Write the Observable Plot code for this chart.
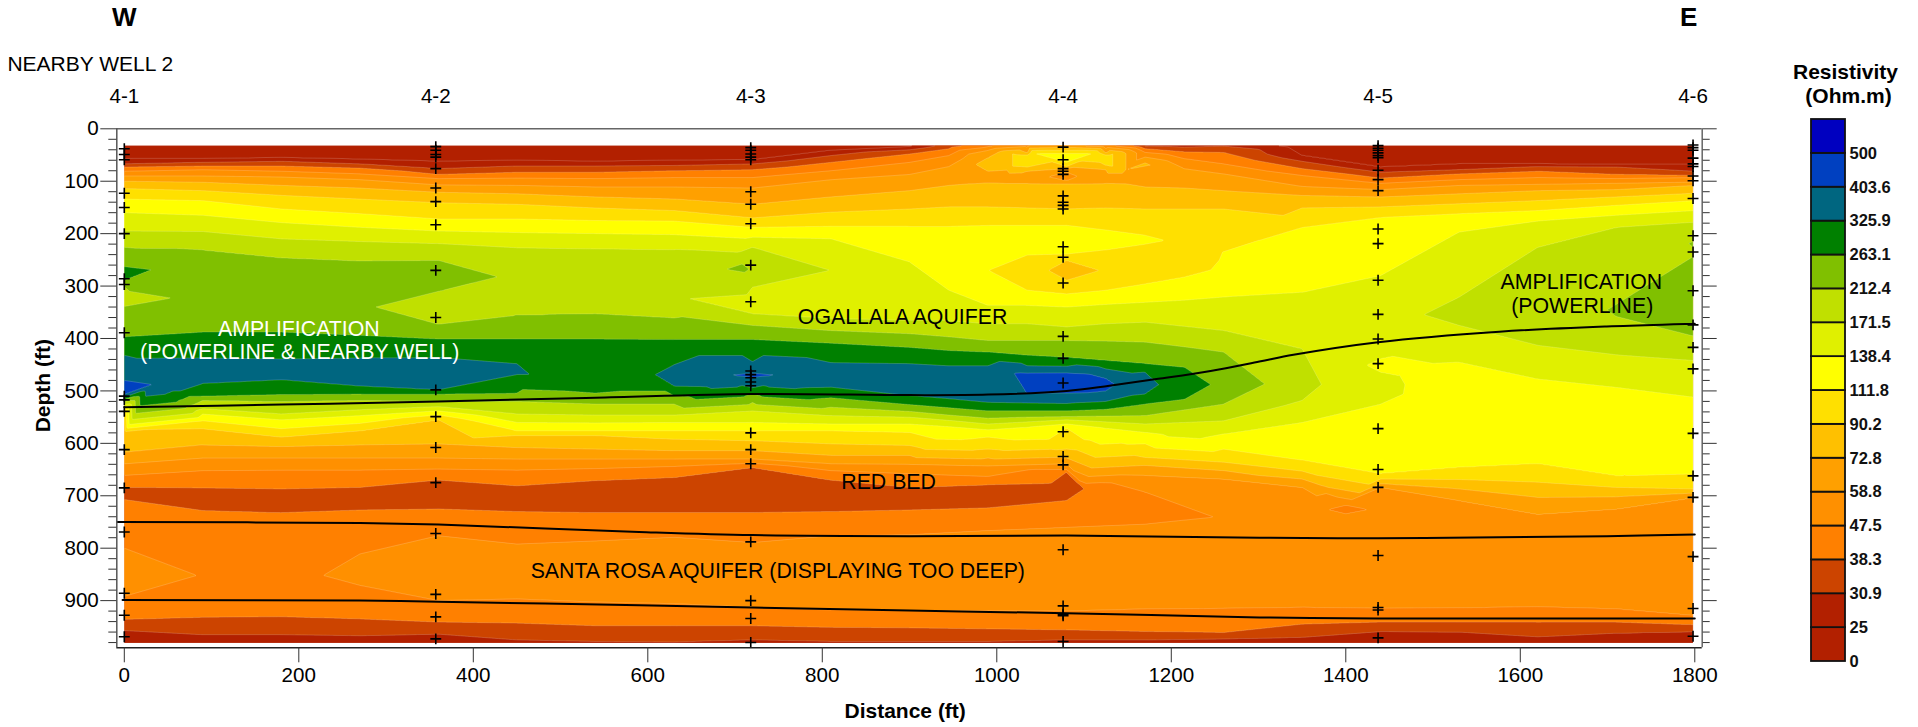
<!DOCTYPE html>
<html><head><meta charset="utf-8">
<script src="https://cdn.jsdelivr.net/npm/d3@7"></script>
<script src="https://cdn.jsdelivr.net/npm/@observablehq/plot@0.6"></script>
<style>html,body{margin:0;padding:0;background:#fff;overflow:hidden}#chart{position:relative;width:1918px;height:727px}#chart svg{display:block;max-width:none;background:transparent}#legend{position:absolute;left:1718px;top:0}</style>
</head><body><div id="chart"><div id="main"></div><div id="legend"></div></div>
<script>
// Resistivity class limits and colours (lowest class first)
const levels = [0,25,30.9,38.3,47.5,58.8,72.8,90.2,111.8,138.4,171.5,212.4,263.1,325.9,403.6,500];
const levelLabels = ["0","25","30.9","38.3","47.5","58.8","72.8","90.2","111.8","138.4","171.5","212.4","263.1","325.9","403.6","500"];
const levelColors = ["#b22000","#b22000","#cc4400","#ff8000","#ff9000","#ffa000","#ffc000","#ffe000","#ffff00","#e0f000","#c0e000","#80c000","#008000","#006680","#0040c0","#0000c0"];

// Resistivity read from the section: [depth ft, ohm.m] down each distance column
const c0=[[32,20],[57,25],[67,30.9],[73,38.3],[81,47.5],[90,58.8],[100,72.8],[114,90.2],[134,111.8],[160,138.4],[195,171.5],[226,212.4],[263,263.1],[275,280],[289,263.1],[301,212.4],[320,200],[339,212.4],[397,263.1],[432,325.9],[480,403.6],[495,430],[507,403.6],[512,325.9],[516,263.1],[520,212.4],[525,171.5],[530,138.4],[534,111.8],[538,90.2],[580,82],[617,72.8],[639,58.8],[661,47.5],[684,38.3],[695,35],[707,38.3],[750,43],[800,47.5],[846,52],[892,47.5],[936,38.3],[957,30.9],[981,27]];
const c90=[[32,20],[57,25],[64,30.9],[71,38.3],[78,47.5],[90,58.8],[102,72.8],[118,90.2],[137,111.8],[165,138.4],[196,171.5],[231,212.4],[388,263.1],[437,325.9],[462,350],[486,325.9],[510,263.1],[518,212.4],[534,171.5],[544,138.4],[557,111.8],[572,90.2],[603,72.8],[628,58.8],[652,47.5],[685,38.3],[706,34],[728,38.3],[790,43],[850,47],[890,43],[932,38.3],[965,30.9],[981,27]];
const c180=[[32,20],[55,25],[62,30.9],[71,38.3],[81,47.5],[92,58.8],[108,72.8],[127,90.2],[153,111.8],[179,138.4],[210,171.5],[246,212.4],[388,263.1],[439,325.9],[460,345],[479,325.9],[507,263.1],[520,212.4],[544,171.5],[555,138.4],[572,111.8],[588,90.2],[606,72.8],[628,58.8],[651,47.5],[687,38.3],[710,34],[732,38.3],[850,45],[931,38.3],[965,30.9],[981,27]];
const c270=[[32,20],[58,25],[67,30.9],[75,38.3],[86,47.5],[97,58.8],[113,72.8],[134,90.2],[162,111.8],[188,138.4],[215,171.5],[252,212.4],[300,235],[340,218],[394,263.1],[437,325.9],[465,345],[491,325.9],[506,263.1],[518,212.4],[536,171.5],[547,138.4],[562,111.8],[576,90.2],[603,72.8],[628,58.8],[651,47.5],[684,38.3],[705,34],[727,38.3],[770,44],[811,47.5],[845,50],[871,47.5],[935,38.3],[967,30.9],[981,27]];
const c360=[[32,20],[62,25],[76,30.9],[87,38.3],[95,47.5],[107,58.8],[121,72.8],[141,90.2],[172,111.8],[195,138.4],[219,171.5],[251,212.4],[280,235],[310,212.4],[340,190],[373,212.4],[401,263.1],[436,325.9],[470,360],[498,325.9],[506,263.1],[520,212.4],[530,171.5],[538,138.4],[546,111.8],[555,90.2],[601,72.8],[628,58.8],[649,47.5],[670,38.3],[697,33],[725,38.3],[776,47.5],[840,53],[900,47.5],[941,38.3],[964,30.9],[981,27]];
const c450=[[32,20],[60,25],[71,30.9],[83,38.3],[94,47.5],[108,58.8],[124,72.8],[144,90.2],[172,111.8],[198,138.4],[227,171.5],[283,205],[356,212.4],[401,263.1],[448,325.9],[458,335],[469,325.9],[504,263.1],[520,212.4],[544,171.5],[560,138.4],[576,111.8],[585,90.2],[608,72.8],[630,58.8],[651,47.5],[681,38.3],[705,33],[730,38.3],[792,47.5],[845,53],[897,47.5],[943,38.3],[975,30.9],[981,29]];
const c540=[[32,20],[62,25],[71,30.9],[83,38.3],[95,47.5],[111,58.8],[130,72.8],[151,90.2],[175,111.8],[200,138.4],[229,171.5],[353,212.4],[401,263.1],[460,305],[504,263.1],[525,212.4],[546,171.5],[561,138.4],[576,111.8],[585,90.2],[611,72.8],[630,58.8],[648,47.5],[671,38.3],[700,33],[732,38.3],[786,47.5],[845,53],[903,47.5],[948,38.3],[978,30.9],[981,30]];
const c630=[[32,20],[60,25],[70,30.9],[80,38.3],[93,47.5],[111,58.8],[134,72.8],[156,90.2],[176,111.8],[202,138.4],[230,171.5],[324,195],[361,212.4],[402,263.1],[450,325.9],[470,335],[491,325.9],[509,263.1],[525,212.4],[546,171.5],[560,138.4],[576,111.8],[592,90.2],[614,72.8],[630,58.8],[644,47.5],[665,38.3],[700,33],[732,38.3],[779,47.5],[845,53],[906,47.5],[948,38.3],[979,30.9],[981,30.5]];
const c720=[[32,20],[59,25],[67,30.9],[78,38.3],[93,47.5],[113,58.8],[144,72.8],[170,90.2],[188,111.8],[207,138.4],[226,171.5],[264,205],[302,171.5],[330,160],[353,171.5],[375,212.4],[402,263.1],[444,325.9],[466,403.6],[470,412],[474,403.6],[494,325.9],[506,263.1],[522,212.4],[538,171.5],[560,138.4],[576,111.8],[595,90.2],[614,72.8],[630,58.8],[638,47.5],[646,38.3],[690,33],[732,38.3],[789,47.5],[850,53],[913,47.5],[948,38.3],[975,30.9],[981,28]];
const c810=[[32,20],[41,25],[51,30.9],[64,38.3],[80,47.5],[97,58.8],[130,72.8],[159,90.2],[186,111.8],[210,138.4],[270,171],[330,150],[362,171.5],[385,212.4],[409,263.1],[446,325.9],[470,375],[493,325.9],[513,263.1],[531,212.4],[547,171.5],[563,138.4],[576,111.8],[601,90.2],[623,72.8],[639,58.8],[652,47.5],[670,38.3],[700,33],[730,38.3],[776,47.5],[850,53],[918,47.5],[951,38.3],[978,30.9],[981,30]];
const c900=[[32,24],[34,25],[40,30.9],[48,38.3],[64,47.5],[87,58.8],[118,72.8],[153,90.2],[186,111.8],[254,138.4],[310,150],[366,171.5],[391,212.4],[417,263.1],[448,325.9],[485,390],[509,325.9],[526,263.1],[539,212.4],[550,171.5],[563,138.4],[579,111.8],[604,90.2],[623,72.8],[640,58.8],[658,47.5],[684,38.3],[705,33],[727,38.3],[774,47.5],[850,53],[919,47.5],[952,38.3],[978,30.9],[981,30]];
const c945=[[32,34],[38,38.3],[51,47.5],[72,58.8],[90,66],[108,72.8],[149,90.2],[186,111.8],[245,125],[308,138.4],[366,171.5],[397,212.4],[423,263.1],[452,325.9],[485,380],[515,325.9],[532,263.1],[546,212.4],[556,171.5],[568,138.4]];
const c968=[[48,58.8],[60,64],[85,67],[105,72.8]];
const c990=[[32,44],[34,47.5],[41,58.8],[55,72.8],[68,80],[81,72.8],[92,65],[103,72.8],[149,90.2],[184,111.8],[225,125],[270,112],[310,125],[337,138.4],[372,171.5],[404,212.4],[426,263.1],[452,325.9],[488,395],[522,325.9],[538,263.1],[552,212.4],[563,171.5],[574,138.4],[588,111.8],[611,90.2],[628,72.8],[643,58.8],[663,47.5],[679,38.3],[700,34],[723,38.3],[766,47.5],[850,53],[919,47.5],[954,38.3],[978,30.9],[981,30]];
const c1012=[[79,72.8],[92,63],[104,72.8]];
const c1035=[[32,55],[36,58.8],[46,72.8],[50,90.2],[60,98],[73,90.2],[81,72.8],[92,62],[104,72.8],[151,90.2],[184,111.8],[212,125],[241,111.8],[270,100],[308,111.8],[337,138.4],[372,171.5],[404,212.4],[432,263.1],[452,325.9],[466,405],[488,430],[505,403.6],[523,325.9],[538,263.1],[550,212.4],[559,171.5],[569,138.4]];
const c1080=[[32,60],[36,72.8],[41,90.2],[47,111.8],[53,125],[64,111.8],[72,90.2],[76,72.8],[83,58.8],[91,56],[99,58.8],[105,72.8],[153,90.2],[184,111.8],[212,125],[239,111.8],[251,90.2],[270,82],[289,90.2],[315,111.8],[340,138.4],[378,171.5],[404,212.4],[436,263.1],[453,325.9],[466,406],[488,450],[504,404.5],[524,325.9],[538,263.1],[549,212.4],[555,171.5],[563,138.4],[571,111.8],[611,90.2],[628,72.8],[639,58.8],[650,47.5],[655,38.3],[680,36],[709,38.3],[760,47.5],[850,53],[920,47.5],[956,38.3],[975,30.9],[981,28]];
const c1106=[[468,404.5],[488,425],[503,405]];
const c1125=[[32,50],[38,58.8],[46,72.8],[50,90.2],[60,95],[70,90.2],[78,72.8],[90,66],[104,72.8],[151,90.2],[193,111.8],[212,122],[231,111.8],[270,92],[308,111.8],[335,138.4],[372,171.5],[405,212.4],[442,263.1],[458,325.9],[476,403.6],[488,412],[500,404.2],[520,325.9],[535,263.1],[548,212.4],[559,171.5],[571,138.4]];
const c1148=[[78,72.8],[90,66],[105,72.8]];
const c1170=[[32,30],[33,30.9],[38,38.3],[45,47.5],[54,58.8],[65,72.8],[68,75],[71,72.8],[85,65],[111,72.8],[153,90.2],[203,111.8],[212,115],[220,111.8],[255,100],[296,111.8],[331,138.4],[369,171.5],[407,212.4],[448,263.1],[464,325.9],[488,340],[506,325.9],[525,263.1],[547,212.4],[563,171.5],[579,138.4],[601,111.8],[627,90.2],[642,72.8],[661,58.8],[693,47.5],[725,44],[754,47.5],[835,53],[916,47.5],[959,38.3],[975,30.9],[981,28]];
const c1215=[[32,29],[35,30.9],[44,38.3],[57,47.5],[76,58.8],[95,66],[113,72.8],[153,90.2],[200,100],[250,105],[283,111.8],[327,138.4],[377,171.5],[416,212.4],[455,263.1],[488,300],[516,263.1],[536,212.4],[560,171.5]];
const c1260=[[32,30],[33,30.9],[45,38.3],[67,47.5],[86,58.8],[118,72.8],[153,90.2],[235,112],[321,138.4],[385,171.5],[426,212.4],[488,255],[525,212.4],[557,171.5],[582,138.4],[611,111.8],[636,90.2],[652,72.8],[668,58.8],[743,48],[830,53],[915,47.5],[961,38.3],[973,30.9],[981,28]];
const c1350=[[32,22],[51,25],[62,30.9],[76,38.3],[89,47.5],[110,58.8],[127,72.8],[151,90.2],[188,111.8],[312,138.4],[420,171.5],[487,195],[518,171.5],[560,138.4],[632,111.8],[653,90.2],[668,72.8],[684,58.8],[726,49],[830,53],[913,47.5],[945,38.3],[970,30.9],[981,28]];
const c1440=[[32,22],[73,25],[83,30.9],[94,38.3],[104,47.5],[116,58.8],[130,72.8],[149,90.2],[169,111.8],[280,138.4],[360,155],[439,138.4],[451,132],[464,138.4],[495,145],[525,138.4],[658,111.8],[668,90.2],[677,72.8],[684,58.8],[726,49],[830,53],[915,47.5],[941,38.3],[959,30.9],[981,27]];
const c1530=[[32,22],[67,25],[78,30.9],[86,38.3],[97,47.5],[108,58.8],[124,72.8],[143,90.2],[162,111.8],[197,138.4],[321,171.5],[350,185],[375,171.5],[445,138.4],[560,120],[646,111.8],[669,90.2],[687,72.8],[709,58.8],[820,53],[914,47.5],[941,38.3],[960,30.9],[981,27]];
const c1620=[[32,22],[67,25],[72,30.9],[81,38.3],[93,47.5],[106,58.8],[118,72.8],[137,90.2],[156,111.8],[176,138.4],[226,171.5],[340,200],[413,171.5],[477,138.4],[560,120],[639,111.8],[674,90.2],[703,72.8],[735,58.8],[825,53],[912,47.5],[941,38.3],[969,30.9],[981,28]];
const c1710=[[32,22],[68,25],[73,30.9],[87,38.3],[95,47.5],[104,58.8],[116,72.8],[130,90.2],[146,111.8],[165,138.4],[188,171.5],[335,212.4],[346,214],[358,212.4],[431,171.5],[493,138.4],[580,120],[662,111.8],[684,90.2],[702,72.8],[725,58.8],[820,53],[916,47.5],[941,38.3],[962,30.9],[981,28]];
const c1800=[[32,22],[68,25],[81,30.9],[89,38.3],[93,47.5],[102,58.8],[108,72.8],[123,90.2],[137,111.8],[156,138.4],[178,171.5],[214,212.4],[221,216],[229,212.4],[235,210],[242,212.4],[320,245],[396,212.4],[442,171.5],[512,138.4],[600,120],[642,111.8],[650,113],[658,111.8],[667,111],[676,111.8],[687,90.2],[695,72.8],[703,58.8],[820,53],[929,47.5],[946,38.3],[959,30.9],[981,28]];
const columnX=[0,90,180,270,360,450,540,630,720,810,900,945,968,990,1012,1035,1080,1106,1125,1148,1170,1215,1260,1350,1440,1530,1620,1710,1800];
const columns=[c0,c90,c180,c270,c360,c450,c540,c630,c720,c810,c900,c945,c968,c990,c1012,c1035,c1080,c1106,c1125,c1148,c1170,c1215,c1260,c1350,c1440,c1530,c1620,c1710,c1800];
// Tips of closed contours between the columns: [distance, depth, ohm.m]
const contourTips=[[31,269,263.1],[54,323,212.4],[32,488,403.6],[83,852,47.5],[228,852,47.5],[465,469,325.9],[608,469,325.9],[694,470,403.6],[748,470,403.6],[708,265,225],[690,268,212.4],[716,268,212.4],[708,258,212.4],[647,324,171.5],[998,488,403.6],[1019,465,402],[1136,488,403.6],[1186,488,325.9],[1245,488,263.1],[1307,487,212.4],[1372,488,171.5],[1468,488,138.4],[1462,471,138.4],[1466,506,138.4],[1490,470,128],[1454,434,138.4],[1424,451,138.4],[976,68,72.8],[1018,48,90.2],[1018,72,90.2],[1133,48,90.2],[1133,72,90.2],[1043,47,111.8],[1110,47,111.8],[1059,270,90.2],[1118,270,90.2],[1193,213,111.8],[1246,270,112],[1256,251,112],[1301,213,112],[1100,687,38.3],[1380,726,47.5],[1400,718,47.5],[1400,726,46],[1400,734,47.5],[1425,726,47.5]];

// Measurement points (+) at each station
const stationNames=["4-1","4-2","4-3","4-4","4-5","4-6"];
const stationX=[0,357,718,1076,1437,1798];
const p1=[38,49,59,123,150,200,286,297,389,510,517,539,612,685,769,886,928,969];
const p2=[34,41,49,54,76,113,139,183,270,360,498,549,608,675,772,888,931,973];
const p3=[36,41,48,54,59,120,144,181,260,330,462,469,475,483,490,580,612,639,788,900,934,980];
const p4=[35,59,76,81,87,128,140,146,153,225,245,294,396,438,485,578,625,641,803,910,926,929,978];
const p5=[32,37,41,46,51,55,79,97,118,191,219,289,354,401,448,572,650,684,814,913,918,971];
const p6=[31,36,41,56,67,72,90,99,133,204,235,309,374,417,458,581,662,703,816,915,968];
const stationDepths=[p1,p2,p3,p4,p5,p6];

// Interpreted formation boundaries: [distance, depth]
const boundaryA=[[0,531],[180,526],[360,520],[540,513],[720,506],[900,508],[990,507],[1080,500],[1129,490],[1185,477],[1245,462],[1301,444],[1340,431],[1437,407],[1576,387],[1699,377],[1800,372]];
const boundaryB=[[-8,750],[270,752],[360,755],[590,769],[720,775],[900,777],[1080,776],[1301,780],[1437,781],[1576,779],[1699,777],[1800,774]];
const boundaryC=[[-2,899],[270,900],[360,902],[590,909],[720,913],[900,919],[1080,924],[1301,932],[1437,934],[1800,934]];

// Annotations: [distance, depth, text, colour]
const notes=[[200,382,"AMPLIFICATION","#fff"],[201,427,"(POWERLINE & NEARBY WELL)","#fff"],[892,359,"OGALLALA AQUIFER","#000"],[876,674,"RED BED","#000"],[749,843,"SANTA ROSA AQUIFER (DISPLAYING TOO DEEP)","#000"],[1670,292,"AMPLIFICATION","#000"],[1671,338,"(POWERLINE)","#000"]];
const xTicks=[0,200,400,600,800,1000,1200,1400,1600,1800];
const yTicks=[0,100,200,300,400,500,600,700,800,900];
const yMinor=d3.range(20,1000,20).filter(d=>d%100!==0);

const samples=[];
columns.forEach((col,i)=>col.forEach(([d,v])=>samples.push({x:columnX[i],y:d,v})));
contourTips.forEach(([x,y,v])=>samples.push({x,y,v}));
const plusses=stationDepths.flatMap((ds,i)=>ds.map(d=>({x:stationX[i],y:d})));
const colorScale={type:"threshold",domain:levels.slice(1),range:levelColors};
const F="Liberation Sans";

const boundaryMark=b=>Plot.line(b,{x:d=>d[0],y:d=>d[1],stroke:"#000",strokeWidth:2,curve:"catmull-rom"});
const main=Plot.plot({
  width:1918,height:727,marginLeft:116.3,marginRight:216.3,marginTop:128.3,marginBottom:79.7,
  style:{fontFamily:F,background:"transparent"},
  x:{domain:[-8.6,1808.5]},y:{domain:[0,990],reverse:true},color:colorScale,
  marks:[
    Plot.contour(samples,{x:"x",y:"y",value:"v",fill:"value",stroke:"#fff",strokeOpacity:.3,strokeWidth:.6,
      interpolate:"barycentric",thresholds:levels,x1:0,x2:1798,y1:32,y2:981,pixelSize:1,blur:0}),
    boundaryMark(boundaryA),boundaryMark(boundaryB),boundaryMark(boundaryC),
    Plot.dot(plusses,{x:"x",y:"y",symbol:"plus",r:3.6,stroke:"#000",strokeWidth:1.6}),
    Plot.text(notes,{x:d=>d[0],y:d=>d[1],text:d=>d[2],fill:d=>d[3],fontSize:21.3}),
    Plot.ruleY([0],{stroke:"#666",strokeWidth:1.5}),
    Plot.ruleY([990],{stroke:"#222",strokeWidth:1.5}),
    Plot.ruleX([-8.6],{stroke:"#555",strokeWidth:1.5}),
    Plot.ruleX([1808.5],{stroke:"#666",strokeWidth:1.5}),
    Plot.axisX(xTicks,{tickSize:15,tickPadding:5,fontSize:20.6,label:null,stroke:"#333",tickFormat:d=>String(d)}),
    Plot.axisY(yTicks,{anchor:"left",tickSize:16,tickPadding:2,fontSize:20.6,label:null,stroke:"#333"}),
    Plot.axisY(yMinor,{anchor:"left",tickSize:8,text:null,label:null,stroke:"#333"}),
    Plot.axisY(yTicks,{anchor:"right",tickSize:14,text:null,label:null,stroke:"#333"}),
    Plot.axisY(yMinor,{anchor:"right",tickSize:7,text:null,label:null,stroke:"#333"}),
    Plot.text(stationNames,{x:(d,i)=>stationX[i],fontSize:20.6,text:d=>d,y:()=>-62}),
    Plot.text(["W"],{x:[0],y:[-212],fontSize:26,fontWeight:"bold"}),
    Plot.text(["E"],{x:[1800],dx:-6,y:[-212],fontSize:26,fontWeight:"bold"}),
    Plot.text(["NEARBY WELL 2"],{x:[-134],y:[-123],textAnchor:"start",fontSize:21}),
    Plot.text(["Distance (ft)"],{x:[895],y:[1112],fontSize:21,fontWeight:"bold"}),
    Plot.text(["Depth (ft)"],{x:[-93],y:[490],rotate:-90,fontSize:21,fontWeight:"bold"})
  ]
});
document.getElementById("main").append(main);

// Colour bar, lowest class at the bottom
const boxes=levels.map((v,i)=>({v,i}));
const legend=Plot.plot({
  width:200,height:727,marginLeft:93,marginRight:73,marginTop:119,marginBottom:66,
  style:{fontFamily:F,background:"transparent"},
  x:{domain:[0,1],axis:null},y:{domain:[0,16],axis:null},color:colorScale,
  marks:[
    Plot.rect(boxes,{x1:()=>0,x2:()=>1,y1:d=>d.i,y2:d=>d.i+1,fill:"v",stroke:"#111",strokeWidth:1.8}),
    Plot.text(levelLabels,{x:()=>1,y:(d,i)=>i,text:d=>d,dx:4,textAnchor:"start",fontSize:16.5,fontWeight:"bold",fill:"#111"}),
    Plot.text(["Resistivity"],{x:[1],y:[17.38],fontSize:21,fontWeight:"bold"}),
    Plot.text(["(Ohm.m)"],{x:[1],dx:3,y:[16.68],fontSize:21,fontWeight:"bold"})
  ]
});
document.getElementById("legend").append(legend);
</script></body></html>
